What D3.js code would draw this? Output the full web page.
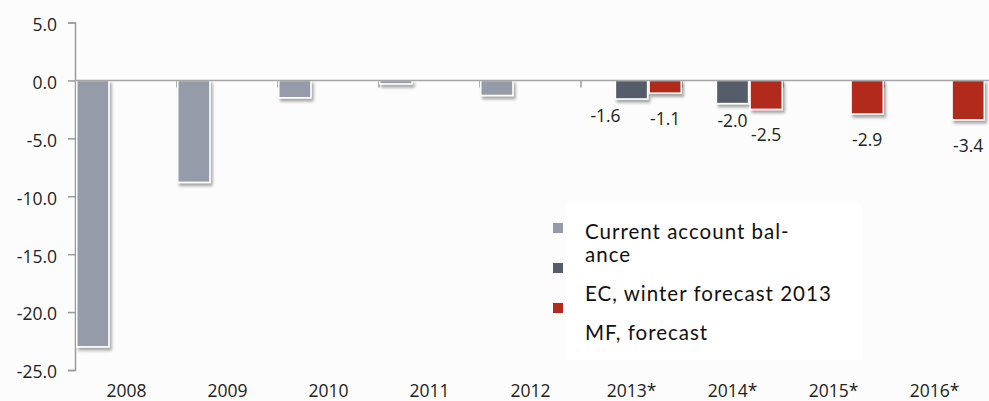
<!DOCTYPE html>
<html>
<head>
<meta charset="utf-8">
<script src="https://cdn.jsdelivr.net/npm/d3@7"></script>
<style>
  body { margin: 0; background: #fcfcfc; }
  .tick-label { font-family: 'Open Sans', sans-serif; font-size: 17.5px; fill: #222; }
  .year-label { font-family: 'Open Sans', sans-serif; font-size: 17.5px; fill: #222; }
  .data-label { font-family: 'Open Sans', sans-serif; font-size: 17.5px; fill: #222; }
  .legend-text { font-family: 'Lato', sans-serif; font-size: 20.5px; letter-spacing: 1px; fill: #111; }
</style>
</head>
<body>
<div id="chart"></div>
<script>
const years = ['2008', '2009', '2010', '2011', '2012', '2013*', '2014*', '2015*', '2016*'];
const currentAccount = [-23.0, -8.8, -1.5, -0.3, -1.3, null, null, null, null];
const ecForecast = [null, null, null, null, null, -1.6, -2.0, null, null];
const mfForecast = [null, null, null, null, null, -1.1, -2.5, -2.9, -3.4];
const yTicks = [5, 0, -5, -10, -15, -20, -25];
const seriesNames = ['Current account balance', 'EC, winter forecast 2013', 'MF, forecast'];
const legendLines = [['Current account bal-', 'ance'], ['EC, winter forecast 2013'], ['MF, forecast']];

const width = 989, height = 401;
const margin = { top: 22.5, right: 4, bottom: 31, left: 76 };
const colors = ['#959ba9', '#555c6a', '#b22b1b'];

const series = [
  { key: 'cab', values: currentAccount, label: false, labelGap: 0 },
  { key: 'ec', values: ecForecast, label: true, labelGap: 23 },
  { key: 'mf', values: mfForecast, label: true, labelGap: 32 }
];

const svg = d3.select('#chart').append('svg')
  .attr('width', width)
  .attr('height', height);

svg.append('rect').attr('width', width).attr('height', height).attr('fill', '#fcfcfc');

const defs = svg.append('defs');
const shadow = defs.append('filter').attr('id', 'shadow')
  .attr('x', '-20%').attr('y', '-20%').attr('width', '150%').attr('height', '150%');
shadow.append('feGaussianBlur').attr('in', 'SourceAlpha').attr('stdDeviation', 1.6);
shadow.append('feOffset').attr('dx', 2).attr('dy', 3).attr('result', 'off');
shadow.append('feComponentTransfer').append('feFuncA').attr('type', 'linear').attr('slope', 0.35);
const merge = shadow.append('feMerge');
merge.append('feMergeNode');
merge.append('feMergeNode').attr('in', 'SourceGraphic');

const x = d3.scaleBand()
  .domain(years)
  .range([margin.left, width - margin.right])
  .padding(0);

const xSub = d3.scaleBand()
  .domain(series.map(s => s.key))
  .range([0, x.bandwidth()])
  .padding(0);

const y = d3.scaleLinear()
  .domain([-25, 5])
  .range([height - margin.bottom, margin.top]);

// legend box
svg.append('rect')
  .attr('x', 565).attr('y', 204)
  .attr('width', 297).attr('height', 156)
  .attr('fill', '#ffffff');

// y axis
const yAxis = svg.append('g')
  .attr('transform', 'translate(' + (margin.left - 1) + ',0)')
  .call(d3.axisLeft(y).tickValues(yTicks).tickFormat(d3.format('.1f')).tickSize(7).tickPadding(11));
yAxis.select('.domain').attr('stroke', '#9a9a9a').attr('stroke-width', 1.5);
yAxis.selectAll('.tick line').attr('stroke', '#9a9a9a').attr('stroke-width', 1.5);
yAxis.selectAll('.tick text').attr('class', 'tick-label').attr('fill', null).attr('dy', '0.45em')
  .text(d => d3.format('.1f')(d).replace('−', '-'));

// category boundary ticks hanging from zero line
svg.append('g').selectAll('line')
  .data(years.slice(1))
  .join('line')
  .attr('x1', d => x(d)).attr('x2', d => x(d))
  .attr('y1', y(0)).attr('y2', y(0) + 7)
  .attr('stroke', '#9a9a9a').attr('stroke-width', 1.5);

// bars
const labelPos = {};
series.forEach((s, si) => {
  const rows = years.map((yr, i) => ({ year: yr, value: s.values[i] })).filter(d => d.value !== null);
  svg.append('g')
    .attr('filter', 'url(#shadow)')
    .selectAll('rect')
    .data(rows)
    .join('rect')
    .attr('x', d => x(d.year) + xSub(s.key) + 0.75)
    .attr('y', y(0))
    .attr('width', xSub.bandwidth() - 1.5)
    .attr('height', d => y(d.value) - y(0))
    .attr('fill', colors[si])
    .attr('stroke', '#ffffff')
    .attr('stroke-width', 1.5);

  if (s.label) {
    svg.append('g').selectAll('text')
      .data(rows)
      .join('text')
      .attr('class', 'data-label label-' + s.key)
      .attr('x', d => x(d.year) + xSub(s.key) + xSub.bandwidth() / 2)
      .attr('y', d => y(d.value) + s.labelGap)
      .attr('text-anchor', 'middle')
      .text(d => d3.format('.1f')(d.value).replace('−', '-'));
  }
});

// push an EC label left when it sits on the same line as the MF label next to it
svg.selectAll('.label-ec').each(function(d) {
  const mf = svg.selectAll('.label-mf').filter(m => m.year === d.year);
  if (mf.empty()) return;
  const dy = Math.abs(+mf.attr('y') - +d3.select(this).attr('y'));
  if (dy < 10) d3.select(this).attr('dx', -26);
});

// zero line
svg.append('line')
  .attr('x1', margin.left - 1).attr('x2', width)
  .attr('y1', y(0)).attr('y2', y(0))
  .attr('stroke', '#a6a6a6').attr('stroke-width', 1.5);

// year labels at bottom
svg.append('g').selectAll('text')
  .data(years)
  .join('text')
  .attr('class', 'year-label')
  .attr('x', d => x(d) + x.bandwidth() / 2)
  .attr('y', height - 4)
  .attr('text-anchor', 'middle')
  .text(d => d);

// legend
const legend = svg.append('g').attr('transform', 'translate(553,223)');
legend.selectAll('rect')
  .data(seriesNames)
  .join('rect')
  .attr('x', 0)
  .attr('y', (d, i) => i * 40)
  .attr('width', 10).attr('height', 10)
  .attr('fill', (d, i) => colors[i]);

let lineY = 16;
legendLines.forEach((lines, i) => {
  if (i > 0) lineY += 39;
  lines.forEach((ln, j) => {
    if (j > 0) lineY += 23;
    legend.append('text')
      .attr('class', 'legend-text')
      .attr('x', 32)
      .attr('y', lineY)
      .text(ln);
  });
});
</script>
</body>
</html>
